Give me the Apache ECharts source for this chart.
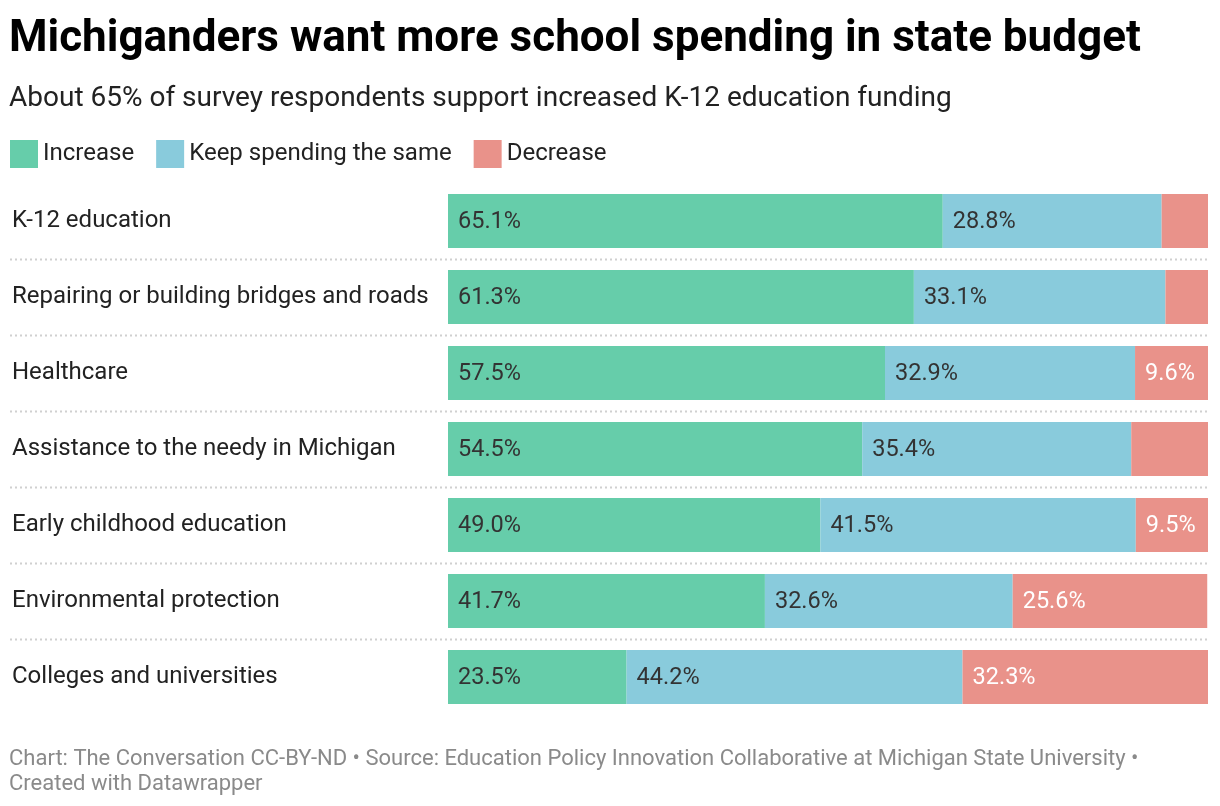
<!DOCTYPE html>
<html lang="en">
<head>
    <meta charset="UTF-8">
    <title>Michiganders want more school spending</title>
    <script src="https://cdn.jsdelivr.net/npm/echarts@6/dist/echarts.min.js"></script>
    <style>
        html, body { margin: 0; padding: 0; background: #fff; }
        #main { width: 1220px; height: 806px; }
    </style>
</head>
<body>
<div id="main"></div>
<script>
    // survey data (percent)
    var categories = [
        'K-12 education',
        'Repairing or building bridges and roads',
        'Healthcare',
        'Assistance to the needy in Michigan',
        'Early childhood education',
        'Environmental protection',
        'Colleges and universities'
    ];
    var increase = [65.1, 61.3, 57.5, 54.5, 49.0, 41.7, 23.5];
    var keepSame = [28.8, 33.1, 32.9, 35.4, 41.5, 32.6, 44.2];
    var decrease = [6.1, 5.6, 9.6, 10.1, 9.5, 25.6, 32.3];

    var seriesNames = ['Increase', 'Keep spending the same', 'Decrease'];
    var colors = ['#66cdaa', '#89cbdc', '#e9928a'];
    var font = 'Roboto, "Open Sans", sans-serif';

    var chartDom = document.getElementById('main');
    var myChart = echarts.init(chartDom);

    var barPx = 760; // width of the bar area, used only to decide if a label fits
    function fits(v) {
        var txt = v.toFixed(1) + '%';
        return txt.length * 12 + 20 <= v / 100 * barPx;
    }

    function makeSeries(name, data, color, textColor) {
        return {
            name: name,
            type: 'bar',
            stack: 'total',
            barWidth: 54,
            itemStyle: { color: color },
            emphasis: { disabled: true },
            label: {
                show: true,
                position: 'insideLeft',
                distance: 10,
                offset: [0, 1],
                color: textColor,
                fontFamily: font,
                fontSize: 23.5,
                formatter: function (p) {
                    return fits(p.value) ? p.value.toFixed(1) + '%' : '';
                }
            },
            data: data
        };
    }

    var option = {
        animation: false,
        textStyle: { fontFamily: font },
        title: [
            {
                text: 'Michiganders want more school spending in state budget',
                subtext: 'About 65% of survey respondents support increased K-12 education funding',
                left: 4,
                top: 9,
                itemGap: 17,
                textStyle: { fontFamily: font, fontSize: 44, fontWeight: 'bold', color: '#000', lineHeight: 52 },
                subtextStyle: { fontFamily: font, fontSize: 28, color: '#222', lineHeight: 32 }
            },
            {
                text: 'Chart: The Conversation CC-BY-ND • Source: Education Policy Innovation Collaborative at Michigan State University •\nCreated with Datawrapper',
                left: 4,
                top: 742,
                textStyle: { fontFamily: font, fontSize: 22, fontWeight: 'normal', color: '#8a8a8a', lineHeight: 25 }
            }
        ],
        legend: {
            left: 10,
            top: 140,
            padding: 0,
            icon: 'rect',
            itemWidth: 28,
            itemHeight: 28,
            itemGap: 22,
            selectedMode: false,
            textStyle: { fontFamily: font, fontSize: 24, color: '#222' },
            data: seriesNames
        },
        grid: {
            left: 448,
            right: 12,
            top: 183,
            height: 532,
            containLabel: false
        },
        xAxis: {
            type: 'value',
            min: 0,
            max: 100,
            show: false
        },
        yAxis: {
            type: 'category',
            inverse: true,
            data: categories,
            axisLine: { show: false },
            axisTick: { show: false },
            splitLine: { show: false },
            axisLabel: {
                align: 'left',
                margin: 436,
                fontFamily: font,
                fontSize: 24,
                color: '#222',
                padding: [5, 0, 0, 0]
            }
        },
        series: [
            makeSeries(seriesNames[0], increase, colors[0], '#333'),
            makeSeries(seriesNames[1], keepSame, colors[1], '#333'),
            makeSeries(seriesNames[2], decrease, colors[2], '#fff')
        ]
    };

    myChart.setOption(option);

    // dotted separators between the rows, placed through the category scale
    var lines = [];
    for (var i = 0; i < categories.length - 1; i++) {
        var y0 = myChart.convertToPixel({ yAxisIndex: 0 }, categories[i]);
        var y1 = myChart.convertToPixel({ yAxisIndex: 0 }, categories[i + 1]);
        var y = Math.round((y0 + y1) / 2) + 0.5;
        lines.push({
            type: 'line',
            shape: { x1: 10, y1: y, x2: 1208, y2: y },
            style: { stroke: '#d0d0d0', lineWidth: 2, lineDash: [2, 3] },
            silent: true
        });
    }
    myChart.setOption({ graphic: lines });
</script>
</body>
</html>
